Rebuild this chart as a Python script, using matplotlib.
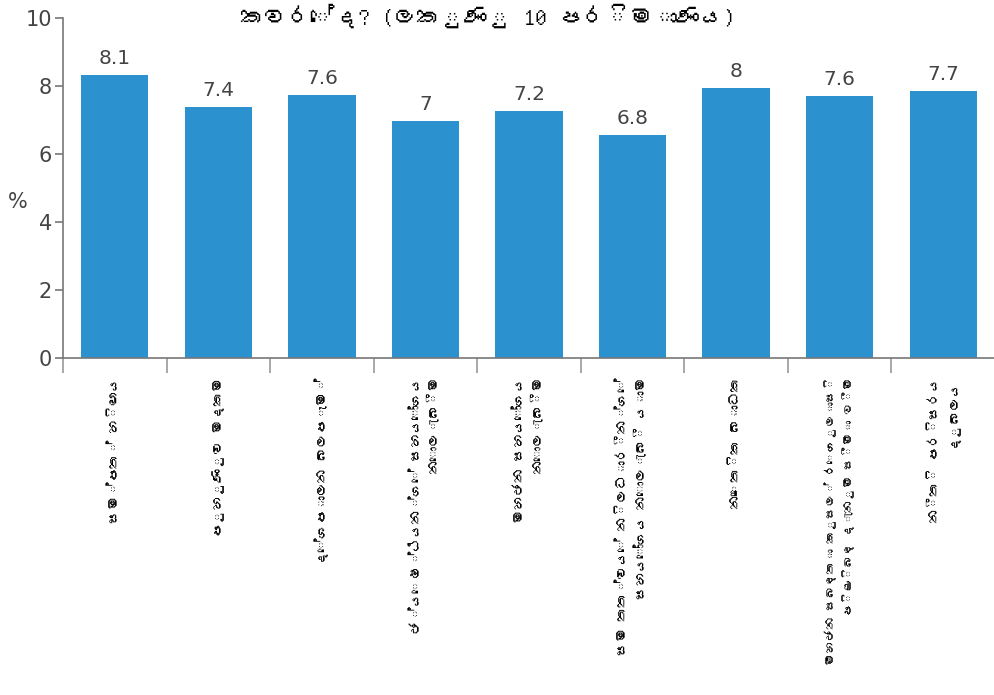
import matplotlib
matplotlib.use('Agg')
import matplotlib.pyplot as plt
from matplotlib import font_manager as fm
from matplotlib.ft2font import FT2Font

# data
categories = [
    'සම්පත් හිඟය',
    'පුහුණුව මදකම',
    'දේශපාලන බලපෑම්',
    'ජ්යෙෂ්ඨයන්ගේ සහයෝගය\nනොලැබීම',
    'මහජන සහයෝගය\nනොලැබීම',
    'සම තත්වයේ නිලධාරීන්ගේ\nසහයෝගය නොලැබී යාම',
    'නෛතික බාධක',
    'මහජන සබඳතා කුසල් රෙගුලාසි\nපිළිබඳ දැනුම සීමා වීම',
    'නීති පරිසරය\nදුබලය',
]
bar_heights = [8.32, 7.38, 7.74, 6.97, 7.26, 6.56, 7.94, 7.71, 7.85]
value_labels = ['8.1', '7.4', '7.6', '7', '7.2', '6.8', '8', '7.6', '7.7']
title = 'කවරේද? (ලකුණු 10 පරිමාණය)'

# look for a font that has Sinhala glyphs
sin_font = None
for path in fm.findSystemFonts():
    try:
        if ord('ස') in FT2Font(path).get_charmap():
            fm.fontManager.addfont(path)
            sin_font = fm.FontProperties(fname=path).get_name()
            break
    except Exception:
        pass
lab_fam = ([sin_font] if sin_font else []) + ['DejaVu Sans']
tit_fam = ([sin_font] if sin_font else []) + ['Liberation Serif', 'DejaVu Sans']

fig = plt.figure(figsize=(9.95, 6.95), dpi=100)
ax = fig.add_axes([0.0633, 0.485, 0.9367, 0.489])

x = [i + 0.5 for i in range(len(bar_heights))]
ax.bar(x, bar_heights, width=0.65, color='#2b91cf', zorder=2)
for xi, h, lab in zip(x, bar_heights, value_labels):
    ax.text(xi, h + 0.2, lab, ha='center', va='bottom', fontsize=14.5,
            color='#444444', family='DejaVu Sans')

ax.set_xlim(0, len(bar_heights))
ax.set_ylim(0, 10)
ax.set_yticks([0, 2, 4, 6, 8, 10])
ax.set_xticks(range(len(bar_heights) + 1))
ax.set_xticklabels([])
ax.tick_params(axis='y', labelsize=15, labelcolor='#444444', color='#777777',
               length=6, width=1.2, pad=2)
ax.tick_params(axis='x', color='#999999', length=11, width=1.2)
for s in ['top', 'right']:
    ax.spines[s].set_visible(False)
for s in ['left', 'bottom']:
    ax.spines[s].set_color('#777777')
    ax.spines[s].set_linewidth(1.2)

ax.set_ylabel('%', rotation=0, fontsize=15, color='#444444', va='center')
ax.yaxis.set_label_coords(-0.048, 0.46)

for xi, cat in zip(x, categories):
    # the longest label is shrunk a bit so it stays inside the figure
    fs = 8.8 if len(cat) > 40 else 10
    ax.annotate(cat, xy=(xi, 0), xycoords='data', xytext=(0, -14),
                textcoords='offset points', rotation=90, ha='center', va='top',
                multialignment='right', fontsize=fs, family=lab_fam,
                fontweight='bold', color='black', linespacing=1.5)

fig.text(0.49, 0.978, title, ha='center', va='center', fontsize=17,
         fontweight='bold', family=tit_fam, color='black')

fig.savefig('out.png', dpi=100)
